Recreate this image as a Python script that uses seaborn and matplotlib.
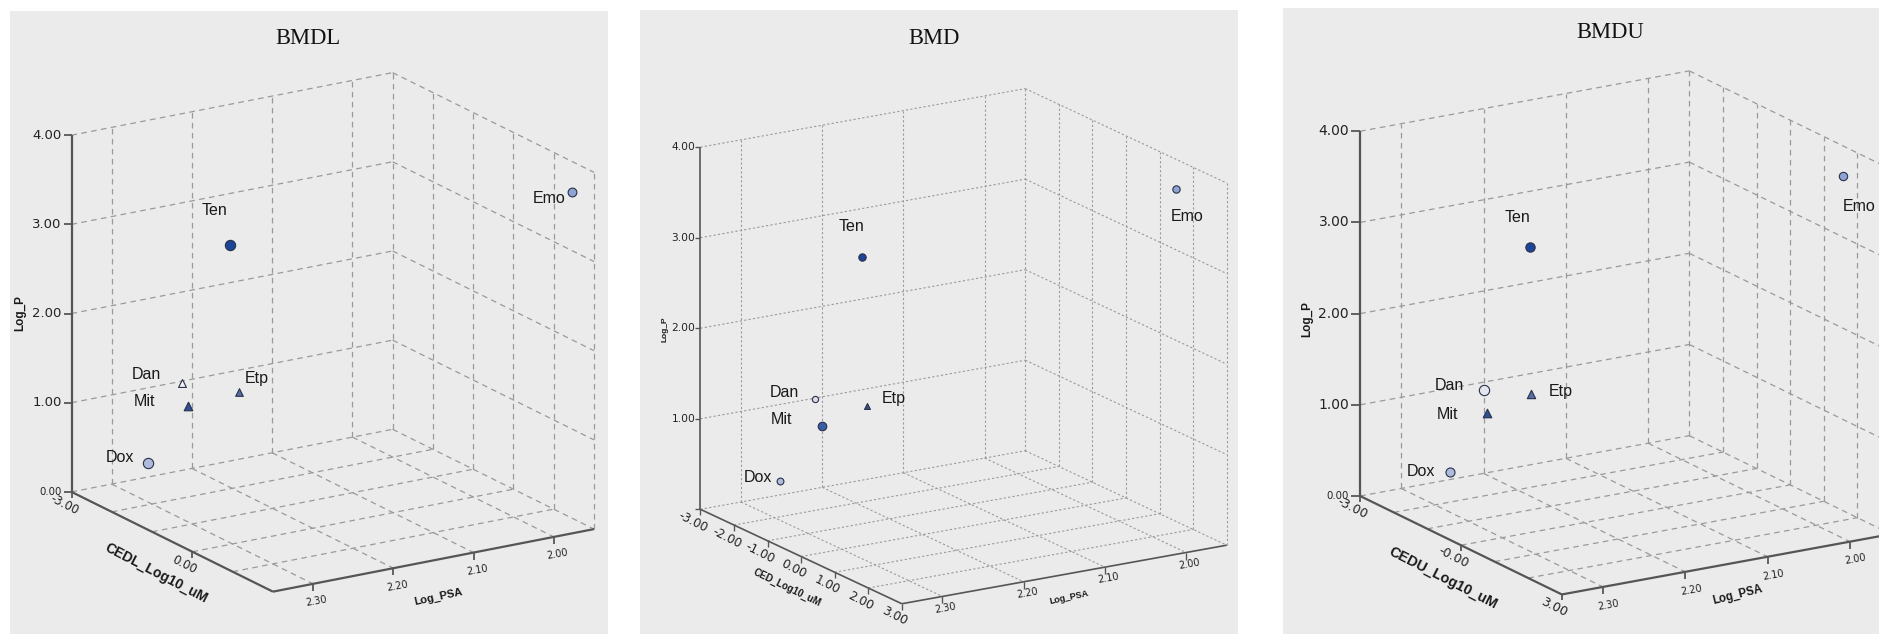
import numpy as np
import matplotlib
matplotlib.use("Agg")
import matplotlib.pyplot as plt
from matplotlib.patches import Rectangle
from matplotlib.markers import TICKLEFT, TICKDOWN
import seaborn as sns

sns.set_theme(style="white")
plt.rcParams["font.family"] = ["Liberation Sans", "DejaVu Sans"]

# ---------------- data ----------------
drugs = ["Ten", "Emo", "Dan", "Mit", "Etp", "Dox"]
log_psa = [2.277, 1.977, 2.270, 2.212, 2.207, 2.314]
log_p = [3.20, 3.83, 1.34, 0.75, 1.17, 0.52]
ced_bmdl = [-0.51, 1.99, -1.84, -2.85, -1.68, -1.83]
ced_bmd = [0.04, 2.13, -1.53, -2.71, -1.51, -1.49]
ced_bmdu = [0.26, 2.24, -1.27, -2.60, -1.42, -1.22]

panel_titles = ["BMDL", "BMD", "BMDU"]
ced_titles = ["CEDL_Log10_uM", "CED_Log10_uM", "CEDU_Log10_uM"]
psa_title = "Log_PSA"
p_title = "Log_P"

ced_limits = [(-3, 2), (-3, 3), (-3, 3)]
psa_limits = (1.95, 2.35)
p_limits = (0, 4)

ced_tick_values = [[-3, 0], [-3, -2, -1, 0, 1, 2, 3], [-3, 0, 3]]
ced_tick_labels = [["-3.00", "0.00"],
                   ["-3.00", "-2.00", "-1.00", "0.00", "1.00", "2.00", "3.00"],
                   ["-3.00", "-0.00", "3.00"]]
psa_tick_values = [2.30, 2.20, 2.10, 2.00]
psa_tick_labels = ["2.30", "2.20", "2.10", "2.00"]
p_tick_values = [0, 1, 2, 3, 4]
p_tick_labels = ["0.00", "1.00", "2.00", "3.00", "4.00"]

# ---------------- styling ----------------
W, H, DPI = 1879, 637, 100
PX = 72.0 / DPI

DARK = "#1d4595"
MID = "#2f4f95"
STEEL = "#566fa6"
LIGHT = "#8ea4d4"
PALE = "#aebbdb"
EDGE = "#28304a"
GRID = "#9a9a9a"
AXIS = "#555555"
PANEL = "#ebebeb"

marker_styles = [
    {"Ten": ("o", DARK, 55), "Emo": ("o", LIGHT, 40), "Dan": ("^", "#f2f3f6", 32),
     "Mit": ("^", MID, 38), "Etp": ("^", STEEL, 30), "Dox": ("o", PALE, 55)},
    {"Ten": ("o", DARK, 28), "Emo": ("o", LIGHT, 28), "Dan": ("o", "#d9dce3", 20),
     "Mit": ("o", "#3a5ea6", 38), "Etp": ("^", "#3d5088", 18), "Dox": ("o", PALE, 24)},
    {"Ten": ("o", DARK, 45), "Emo": ("o", LIGHT, 36), "Dan": ("o", "#e3e6ee", 55),
     "Mit": ("^", MID, 38), "Etp": ("^", STEEL, 36), "Dox": ("o", PALE, 42)},
]

label_offsets = [
    [(-15.8, -34.4), (-22.5, 7.3), (-35.6, -8.9), (-43.9, -5.3), (17.0, -13.4), (-27.7, -5.3)],
    [(-9.9, -30.4), (11.1, 27.9), (-30.0, -6.5), (-40.3, -6.5), (27.3, -7.7), (-22.9, -3.6)],
    [(-12.6, -28.7), (15.8, 30.0), (-34.8, -4.5), (-39.9, 1.2), (29.6, -2.0), (-28.5, -1.2)],
]

layout = [
    dict(view=(18.1, 57.9), L=(71.5, 491.9), R=(594.1, 528.3), bg=(10, 11, 608, 634),
         title=(307.5, 38.5), dash=(0, (4.5, 3.5)), grid_lw=0.9, axis_lw=1.6,
         p_tick_len=6, p_gap=10, p_size=9.5, p_zero_size=7.3, show_p_zero=True,
         ced_size=8.5, psa_size=7.0, ced_off=(-7.5, 13), psa_off=(3.7, 17.5),
         ced_title=((-16.5, 31.4), 10, -27.6), psa_title=((5.2, 36.3), 8, 12),
         p_title=((-51.7, -0.4), 8.5)),
    dict(view=(16.9, 58.2), L=(700.4, 509.3), R=(1226.8, 544.5), bg=(640, 10, 1238, 634),
         title=(934.0, 38.5), dash=(0, (2.0, 2.0)), grid_lw=0.8, axis_lw=1.2,
         p_tick_len=3.5, p_gap=5, p_size=7.7, p_zero_size=7.3, show_p_zero=False,
         ced_size=8.7, psa_size=7.0, ced_off=(-7.5, 12.5), psa_off=(3.3, 11.4),
         ced_title=((-13.7, 30.7), 7, -25.9), psa_title=((4.5, 23.3), 6.5, 12),
         p_title=((-35.6, 0.9), 6)),
    dict(view=(17.4, 58.5), L=(1360.1, 496.0), R=(1891.0, 535.2), bg=(1283, 8, 1879, 634),
         title=(1610.7, 32.4), dash=(0, (4.5, 3.5)), grid_lw=0.9, axis_lw=1.6,
         p_tick_len=6.5, p_gap=11, p_size=10, p_zero_size=7.3, show_p_zero=True,
         ced_size=9, psa_size=7.0, ced_off=(-7.8, 12.5), psa_off=(5.7, 18),
         ced_title=((-17.8, 32.5), 10.4, -27.1), psa_title=((11.2, 30.8), 8.3, 14),
         p_title=((-52.6, 5.5), 8.5)),
]

ced_sets = [ced_bmdl, ced_bmd, ced_bmdu]


def project(ax, x, y, z):
    M = ax.get_proj()
    v = M @ np.array([x, y, z, 1.0])
    return v[0] / v[3], v[1] / v[3]


def tag(ax, x, y, z, text, dx, dy, **kw):
    X, Y = project(ax, x, y, z)
    kw.setdefault("ha", "center")
    kw.setdefault("va", "center")
    ax.annotate(text, (X, Y), xytext=(dx * PX, -dy * PX), textcoords="offset points",
                annotation_clip=False, rotation_mode="anchor", zorder=6, **kw)


def fit_to_corners(fig, ax, L3, R3, tL, tR):
    """Scale and move the (square) 3D axes so two box corners land on given pixels."""
    fig.canvas.draw()
    bb = ax.get_position()
    dL = ax.transData.transform(project(ax, *L3))
    dR = ax.transData.transform(project(ax, *R3))
    TL = np.array([tL[0], H - tL[1]])
    TR = np.array([tR[0], H - tR[1]])
    k = np.linalg.norm(TR - TL) / np.linalg.norm(dR - dL)
    origin = np.array([bb.x0 * W, bb.y0 * H])
    side = bb.width * W
    new_origin = TL - k * (dL - origin)
    ax.set_position([new_origin[0] / W, new_origin[1] / H, side * k / W, side * k / H])


fig = plt.figure(figsize=(W / DPI, H / DPI), dpi=DPI, facecolor="white")

for i, lay in enumerate(layout):
    x0, y0, x1, y1 = lay["bg"]
    fig.add_artist(Rectangle((x0 / W, 1 - y1 / H), (x1 - x0) / W, (y1 - y0) / H,
                             transform=fig.transFigure, facecolor=PANEL,
                             edgecolor="none", zorder=-10))
    fig.text(lay["title"][0] / W, 1 - lay["title"][1] / H, panel_titles[i],
             ha="center", va="center", family="Liberation Serif", fontsize=16.3,
             color="#111111")

    ax = fig.add_axes([0, 0, 1, 1], projection="3d", proj_type="ortho",
                      computed_zorder=False)
    ax.set_axis_off()
    ax.set_facecolor("none")
    ax.view_init(elev=lay["view"][0], azim=lay["view"][1])
    c0, c1 = ced_limits[i]
    p_lo, p_hi = psa_limits
    z0, z1 = p_limits
    ax.set_xlim(p_lo, p_hi)
    ax.set_ylim(c0, c1)
    ax.set_zlim(z0, z1)
    ax.set_box_aspect((1, 1, 0.99))

    g = dict(color=GRID, lw=lay["grid_lw"], ls=lay["dash"], zorder=1)
    # wall at the lowest CED value
    for z in p_tick_values[1:]:
        ax.plot([p_hi, p_lo], [c0, c0], [z, z], **g)
    for p in psa_tick_values + [p_lo]:
        ax.plot([p, p], [c0, c0], [z0, z1], **g)
    # wall at the lowest PSA value
    for z in p_tick_values[1:]:
        ax.plot([p_lo, p_lo], [c0, c1], [z, z], **g)
    for c in range(c0 + 1, c1 + 1):
        ax.plot([p_lo, p_lo], [c, c], [z0, z1], **g)
    # floor
    for p in psa_tick_values + [p_lo]:
        ax.plot([p, p], [c0, c1], [z0, z0], **g)
    for c in range(c0, c1):
        ax.plot([p_hi, p_lo], [c, c], [z0, z0], **g)

    a = dict(color=AXIS, lw=lay["axis_lw"], zorder=2, solid_capstyle="butt")
    ax.plot([p_hi, p_hi], [c0, c0], [z0, z1], **a)
    ax.plot([p_hi, p_hi], [c0, c1], [z0, z0], **a)
    ax.plot([p_hi, p_lo], [c1, c1], [z0, z0], **a)

    tk = dict(ls="none", color=AXIS, mew=lay["axis_lw"] * 0.8, zorder=2)
    ax.plot([p_hi] * len(p_tick_values), [c0] * len(p_tick_values), p_tick_values,
            marker=TICKLEFT, ms=lay["p_tick_len"], **tk)
    cv = ced_tick_values[i]
    ax.plot([p_hi] * len(cv), cv, [z0] * len(cv), marker=TICKDOWN, ms=4.5, **tk)
    ax.plot(psa_tick_values, [c1] * len(psa_tick_values), [z0] * len(psa_tick_values),
            marker=TICKDOWN, ms=5, **tk)

    ced = ced_sets[i]
    for j, d in enumerate(drugs):
        m, col, s = marker_styles[i][d]
        ax.scatter([log_psa[j]], [ced[j]], [log_p[j]], marker=m, s=s, c=[col],
                   edgecolors=EDGE, linewidths=0.8, depthshade=False, zorder=4)

    ax.set_xlim(p_lo, p_hi)
    ax.set_ylim(c0, c1)
    ax.set_zlim(z0, z1)

    fit_to_corners(fig, ax, (p_hi, c0, z0), (p_lo, c1, z0), lay["L"], lay["R"])

    # drug labels
    for j, d in enumerate(drugs):
        dx, dy = label_offsets[i][j]
        tag(ax, log_psa[j], ced[j], log_p[j], d, dx, dy, fontsize=11.5, color="#1a1a1a")

    # Log_P tick labels
    for v, t in zip(p_tick_values, p_tick_labels):
        if v == 0 and not lay["show_p_zero"]:
            continue
        size = lay["p_zero_size"] if v == 0 else lay["p_size"]
        tag(ax, p_hi, c0, v, t, -lay["p_gap"], 0, ha="right", fontsize=size,
            family="DejaVu Sans", color="#222222")
    # CED tick labels
    for v, t in zip(ced_tick_values[i], ced_tick_labels[i]):
        tag(ax, p_hi, v, z0, t, *lay["ced_off"], rotation=-27, fontsize=lay["ced_size"],
            family="DejaVu Sans", color="#222222")
    # PSA tick labels
    for v, t in zip(psa_tick_values, psa_tick_labels):
        tag(ax, v, c1, z0, t, *lay["psa_off"], rotation=10, fontsize=lay["psa_size"],
            family="DejaVu Sans", color="#222222")

    # axis titles
    (cdx, cdy), csz, crot = lay["ced_title"]
    tag(ax, p_hi, (c0 + c1) / 2, z0, ced_titles[i], cdx, cdy, rotation=crot,
        fontsize=csz, fontweight="bold", color="#1a1a1a")
    (pdx, pdy), psz, prot = lay["psa_title"]
    tag(ax, (p_lo + p_hi) / 2, c1, z0, psa_title, pdx, pdy, rotation=prot,
        fontsize=psz, fontweight="bold", color="#1a1a1a")
    (zdx, zdy), zsz = lay["p_title"]
    tag(ax, p_hi, c0, (z0 + z1) / 2, p_title, zdx, zdy, rotation=90,
        fontsize=zsz, fontweight="bold", color="#1a1a1a")

fig.savefig("out.png", dpi=DPI, facecolor="white")
